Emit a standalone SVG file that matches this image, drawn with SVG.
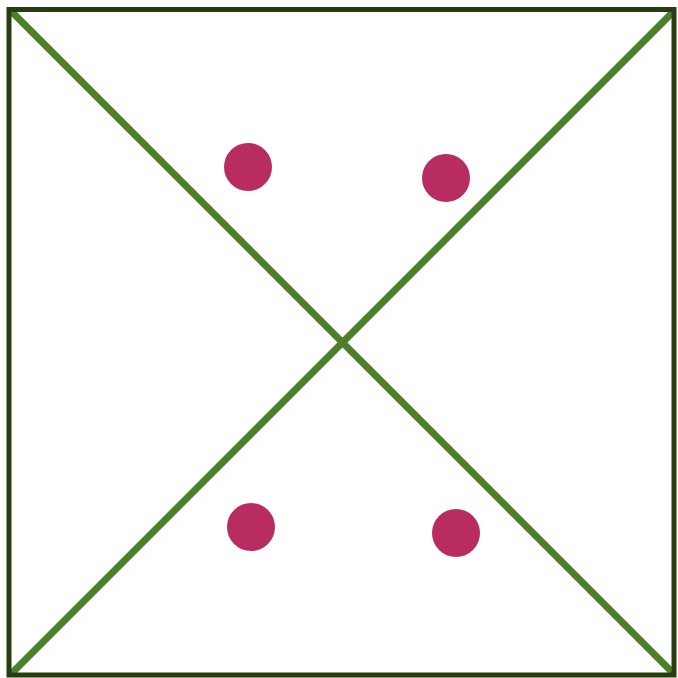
<svg xmlns="http://www.w3.org/2000/svg" width="678" height="678" viewBox="0 0 678 678">
<style>
.diag{stroke:#4b7f28;stroke-width:7;fill:none}
.dot{fill:#b82c61}
</style>
<rect width="678" height="678" fill="#ffffff"/>
<g id="connectors">
<line class="diag" x1="12" y1="12" x2="673" y2="673"/>
<line class="diag" x1="12" y1="673" x2="673" y2="12"/>
</g>
<g id="frame"><rect x="9" y="9.5" width="665" height="665.5" fill="none" stroke="#263d10" stroke-width="5"/></g>
<g id="dot1"><circle class="dot" cx="248" cy="167" r="24"/></g>
<g id="dot2"><circle class="dot" cx="446" cy="178" r="24"/></g>
<g id="dot3"><circle class="dot" cx="251" cy="527" r="24"/></g>
<g id="dot4"><circle class="dot" cx="456" cy="533" r="24"/></g>
</svg>
